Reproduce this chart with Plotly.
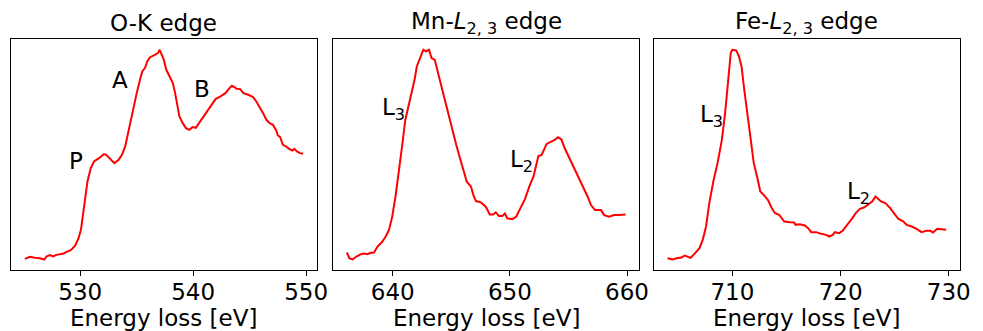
import plotly.graph_objects as go

# O-K edge spectrum
ok_energy = [525.09, 525.55, 525.99, 526.43, 526.8, 527.01, 527.3, 527.59, 527.88, 528.17,
             528.46, 528.75, 529.19, 529.56, 529.85, 530.06, 530.26, 530.44, 530.64, 530.93,
             531.22, 531.66, 532.09, 532.3, 532.67, 533.02, 533.4, 533.69, 533.98, 534.19,
             534.42, 534.71, 535.0, 535.29, 535.49, 535.73, 535.93, 536.16, 536.45, 536.74,
             536.89, 537.03, 537.18, 537.38, 537.62, 537.91, 538.2, 538.4, 538.58, 538.78,
             539.07, 539.36, 539.65, 539.94, 540.23, 540.52, 540.81, 541.1, 541.54, 541.98,
             542.41, 542.85, 543.29, 543.43, 543.63, 543.87, 544.16, 544.45, 544.88, 545.3,
             545.59, 545.9, 546.19, 546.48, 546.77, 547.06, 547.35, 547.5, 547.7, 547.94,
             548.23, 548.52, 548.8, 548.95, 549.19, 549.45, 549.74]
ok_intensity = [33, 39, 36, 35, 31, 40, 44, 40, 45, 46,
                48, 53, 60, 73, 95, 120, 170, 215, 265, 305,
                325, 335, 347, 345, 332, 320, 330, 345, 370, 405,
                440, 490, 530, 570, 595, 605, 625, 637, 642, 647,
                650, 660, 650, 632, 600, 582, 560, 530, 490, 460,
                440, 425, 420, 428, 426, 440, 455, 472, 492, 512,
                520, 530, 548, 552, 548, 543, 542, 530, 525, 518,
                505, 488, 470, 450, 440, 435, 418, 403, 398, 375,
                370, 362, 358, 363, 355, 350, 348]

# Mn-L2,3 edge spectrum
mn_energy = [636.08, 636.3, 636.58, 636.86, 637.28, 637.56, 637.84, 638.12, 638.4, 638.68,
             639.1, 639.38, 639.67, 639.95, 640.23, 640.51, 640.79, 641.07, 641.35, 641.63,
             641.86, 642.05, 642.33, 642.61, 642.83, 643.09, 643.31, 643.59, 643.87, 644.15,
             644.43, 644.72, 645.08, 645.42, 645.7, 646.04, 646.32, 646.68, 646.88, 647.1,
             647.52, 647.94, 648.28, 648.56, 648.79, 649.07, 649.35, 649.57, 649.77, 650.19,
             650.53, 650.89, 651.31, 651.65, 652.01, 652.43, 652.71, 653.13, 653.55, 653.83,
             654.11, 654.39, 654.68, 654.96, 655.29, 655.66, 656.08, 656.36, 656.64, 656.92,
             657.26, 657.77, 658.05, 658.47, 658.89, 659.31, 659.87]
mn_intensity = [53, 35, 32, 40, 48, 50, 48, 52, 53, 70,
                85, 100, 120, 160, 220, 290, 370, 450, 490, 530,
                570, 610, 638, 660, 655, 660, 635, 630, 590, 550,
                510, 475, 415, 375, 340, 300, 265, 250, 225, 207,
                203, 190, 167, 167, 173, 162, 162, 170, 155, 153,
                160, 185, 215, 250, 280, 342, 345, 378, 385, 390,
                398, 392, 365, 345, 320, 290, 260, 245, 220, 195,
                180, 180, 165, 160, 165, 165, 167]

# Fe-L2,3 edge spectrum
fe_energy = [704.01, 704.47, 704.83, 705.29, 705.59, 705.9, 706.14, 706.5, 706.96, 707.26,
             707.57, 707.87, 708.24, 708.63, 709.03, 709.33, 709.64, 709.85, 710.0, 710.36,
             710.61, 710.85, 711.06, 711.37, 711.67, 711.98, 712.28, 712.58, 712.89, 713.28,
             713.65, 713.95, 714.32, 714.8, 715.32, 715.71, 715.84, 716.23, 716.69, 717.0,
             717.29, 717.75, 718.21, 718.66, 718.97, 719.27, 719.48, 719.88, 720.18, 720.64,
             721.09, 721.4, 721.79, 722.16, 722.55, 722.92, 723.22, 723.53, 723.74, 724.13,
             724.59, 725.05, 725.35, 725.81, 726.11, 726.57, 727.02, 727.48, 727.93, 728.3,
             728.54, 728.94, 729.3, 729.76]
fe_intensity = [35, 31, 35, 37, 43, 40, 36, 48, 65, 90,
                130, 200, 265, 320, 390, 470, 580, 650, 660, 658,
                640, 610, 550, 470, 390, 320, 280, 235, 225, 210,
                185, 170, 165, 145, 143, 142, 135, 137, 133, 125,
                113, 113, 108, 105, 100, 105, 113, 110, 117, 135,
                155, 170, 183, 187, 195, 205, 220, 210, 205, 200,
                185, 165, 153, 145, 135, 130, 123, 113, 117, 117,
                112, 123, 122, 120]

panel_titles = ["O-K edge", "Mn-<i>L</i><sub>2, 3</sub> edge", "Fe-<i>L</i><sub>2, 3</sub> edge"]
x_title = "Energy loss [eV]"

# Peak labels: (energy, intensity, text)
ok_labels = [(529.58, 325, "P"), (533.55, 570, "A"), (540.75, 542, "B")]
mn_labels = [(640.1, 484, "L<sub>3</sub>"), (651.0, 328, "L<sub>2</sub>")]
fe_labels = [(708.05, 462, "L<sub>3</sub>"), (721.7, 230, "L<sub>2</sub>")]

W, H = 983, 331
FONT = "DejaVu Sans"
FS = 23

domains_px = [(11, 320.7), (336.7, 646.7), (661, 971)]
y_top_px, y_bot_px = 39.3, 270.0

series = [(ok_energy, ok_intensity, ok_labels),
          (mn_energy, mn_intensity, mn_labels),
          (fe_energy, fe_intensity, fe_labels)]

fig = go.Figure()
annotations = []

for i, (ex, iy, labels) in enumerate(series):
    n = "" if i == 0 else str(i + 1)
    xa, ya = "x" + n, "y" + n
    fig.add_trace(go.Scatter(x=ex, y=iy, mode="lines", xaxis=xa, yaxis=ya,
                             line=dict(color="#ff0000", width=2), showlegend=False,
                             hoverinfo="skip"))
    # 5% padding around the data, like matplotlib's default margins
    xlo, xhi = min(ex), max(ex)
    ylo, yhi = min(iy), max(iy)
    xp, yp = 0.05 * (xhi - xlo), 0.05 * (yhi - ylo)
    d0, d1 = domains_px[i]
    fig.update_layout(**{
        "xaxis" + n: dict(domain=[d0 / W, d1 / W], range=[xlo - xp, xhi + xp],
                          anchor=ya, showline=True, mirror=True, linecolor="black",
                          linewidth=1, ticks="outside", ticklen=5, tickwidth=1,
                          tickcolor="black", tick0=0, dtick=10, showgrid=False,
                          zeroline=False, ticklabelstandoff=-4,
                          tickfont=dict(family=FONT, size=FS, color="black")),
        "yaxis" + n: dict(domain=[1 - y_bot_px / H, 1 - y_top_px / H],
                          range=[ylo - yp, yhi + yp], anchor=xa, showline=True,
                          mirror=True, linecolor="black", linewidth=1, showticklabels=False,
                          ticks="", showgrid=False, zeroline=False),
    })
    cx = (d0 + d1) / 2 / W
    annotations.append(dict(text=panel_titles[i], xref="paper", yref="paper",
                            x=cx, y=1 - 22.5 / H, xanchor="center", yanchor="middle",
                            showarrow=False, font=dict(family=FONT, size=FS, color="black")))
    annotations.append(dict(text=x_title, xref="paper", yref="paper",
                            x=cx, y=1 - 317.5 / H, xanchor="center", yanchor="middle",
                            showarrow=False, font=dict(family=FONT, size=FS, color="black")))
    for (lx, ly, lt) in labels:
        annotations.append(dict(text=lt, xref=xa, yref=ya, x=lx, y=ly,
                                xanchor="center", yanchor="middle", showarrow=False,
                                font=dict(family=FONT, size=FS, color="black")))

fig.update_layout(width=W, height=H, margin=dict(l=0, r=0, t=0, b=0),
                  paper_bgcolor="white", plot_bgcolor="white",
                  annotations=annotations)

fig.write_html("out.html")
